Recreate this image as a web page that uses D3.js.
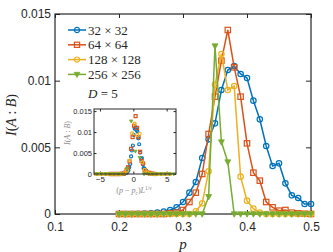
<!DOCTYPE html>
<html>
<head>
<meta charset="utf-8">
<script src="https://cdn.jsdelivr.net/npm/d3@7"></script>
<style>
  body { margin: 0; background: #fff; }
  svg { display: block; }
  .tick text { font-family: "Liberation Sans", Arial, sans-serif; fill: #262626; }
  .domain { display: none; }
</style>
</head>
<body>
<svg id="chart" width="333" height="252"></svg>
<script>
// p values (x axis), one point every 0.01
var pValues = [0.20, 0.21, 0.22, 0.23, 0.24, 0.25, 0.26, 0.27, 0.28, 0.29,
               0.30, 0.31, 0.32, 0.33, 0.34, 0.35, 0.36, 0.37, 0.38, 0.39,
               0.40, 0.41, 0.42, 0.43, 0.44, 0.45, 0.46, 0.47, 0.48, 0.49, 0.50];

// I(A:B)
var mi32 = [0, 0, 0, 0.00002, 0.00003, 0.00005, 0.0001, 0.00018, 0.0003, 0.0005,
            0.0009, 0.0016, 0.0024, 0.0042, 0.0056, 0.0068, 0.0093, 0.0108, 0.0111, 0.0105,
            0.0102, 0.0085, 0.0071, 0.0051, 0.0036, 0.0038, 0.0023, 0.0014, 0.0012, 0.00075, 0.00075];
var mi64 = [0, 0, 0, 0, 0, 0, 0, 0, 0.00005, 0.0001,
            0.0003, 0.0009, 0.0016, 0.003, 0.006, 0.0088, 0.0115, 0.0138, 0.011, 0.0088,
            0.0053, 0.0031, 0.0025, 0.0009, 0.0005, 0.00025, 0.0003, 0.0001, 0.00005, 0.00002, 0];
var mi128 = [0, 0, 0, 0, 0, 0, 0, 0, 0, 0,
             0, 0, 0.0002, 0.0008, 0.0032, 0.0097, 0.012, 0.0093, 0.0096, 0.0028,
             0.001, 0.0004, 0.0001, 0, 0, 0, 0, 0, 0, 0, 0];
var mi256 = [0, 0, 0, 0, 0, 0, 0, 0, 0, 0,
             0, 0, 0, 0, 0.0013, 0.0126, 0.0054, 0.0039, 0, 0,
             0, 0, 0, 0, 0, 0, 0, 0, 0, 0, 0];

var sizes = [32, 64, 128, 256];
var seriesNames = ["32 × 32", "64 × 64", "128 × 128", "256 × 256"];
var colors = ["#0072BD", "#D95319", "#EDB120", "#77AC30"];
var markers = ["circle", "square", "circle", "triangle"];

var xTicks = [0.1, 0.2, 0.3, 0.4, 0.5];
var yTicks = [0, 0.005, 0.01, 0.015];
var insetXTicks = [-5, 0, 5];
var insetYTicks = [0, 0.005, 0.01, 0.015];

// collapse parameters for the inset
var pc = 0.355;
var nu = 4 / 3;

var allSeries = [mi32, mi64, mi128, mi256];

var svg = d3.select("#chart");
var ink = "#262626";

var x = d3.scaleLinear().domain([0.1, 0.5]).range([55, 311]);
var y = d3.scaleLinear().domain([0, 0.015]).range([214, 14]);

var fmt = d => d === 0 ? "0" : String(+d.toFixed(3));

// axes with inward ticks
svg.append("g")
  .attr("transform", "translate(0,214)")
  .call(d3.axisBottom(x).tickValues(xTicks).tickFormat(fmt).tickSizeInner(-4).tickSizeOuter(0).tickPadding(8))
  .call(g => g.selectAll("text").attr("font-size", 12))
  .call(g => g.selectAll(".tick line").attr("stroke", ink));
svg.append("g")
  .attr("transform", "translate(0,14)")
  .call(d3.axisTop(x).tickValues(xTicks).tickFormat("").tickSizeInner(-4).tickSizeOuter(0))
  .call(g => g.selectAll(".tick line").attr("stroke", ink));
svg.append("g")
  .attr("transform", "translate(55,0)")
  .call(d3.axisLeft(y).tickValues(yTicks).tickFormat(fmt).tickSizeInner(-5).tickSizeOuter(0).tickPadding(4))
  .call(g => g.selectAll("text").attr("font-size", 12))
  .call(g => g.selectAll(".tick line").attr("stroke", ink));
svg.append("g")
  .attr("transform", "translate(311,0)")
  .call(d3.axisRight(y).tickValues(yTicks).tickFormat("").tickSizeInner(-5).tickSizeOuter(0))
  .call(g => g.selectAll(".tick line").attr("stroke", ink));

svg.append("rect")
  .attr("x", 55).attr("y", 14).attr("width", 256).attr("height", 200)
  .attr("fill", "none").attr("stroke", ink).attr("stroke-width", 1.2);

// axis labels
svg.append("text")
  .attr("x", 183).attr("y", 249)
  .attr("text-anchor", "middle")
  .attr("font-family", "Liberation Serif, serif").attr("font-style", "italic")
  .attr("font-size", 15).attr("fill", ink)
  .text("p");
svg.append("text")
  .attr("transform", "translate(16,115) rotate(-90)")
  .attr("text-anchor", "middle")
  .attr("font-family", "Liberation Serif, serif").attr("font-size", 14).attr("fill", ink)
  .html('<tspan font-style="italic">I</tspan>(<tspan font-style="italic">A</tspan> : <tspan font-style="italic">B</tspan>)');

function drawMarker(g, kind, color, r) {
  if (kind === "circle") {
    g.append("circle").attr("r", r).attr("fill", "none").attr("stroke", color).attr("stroke-width", 1.2);
  } else if (kind === "square") {
    g.append("rect").attr("x", -r).attr("y", -r).attr("width", 2 * r).attr("height", 2 * r)
      .attr("fill", "none").attr("stroke", color).attr("stroke-width", 1.2);
  } else {
    g.append("path").attr("d", `M${-r * 1.1},${-r * 0.8}L${r * 1.1},${-r * 0.8}L0,${r * 1.2}Z`)
      .attr("fill", color).attr("stroke", color).attr("stroke-width", 0.8);
  }
}

// main lines
var line = d3.line().x(d => x(d[0])).y(d => y(d[1]));
allSeries.forEach((vals, i) => {
  var pts = pValues.map((p, j) => [p, vals[j]]);
  svg.append("path").datum(pts)
    .attr("d", line).attr("fill", "none")
    .attr("stroke", colors[i]).attr("stroke-width", 1.5);
  svg.append("g").selectAll("g").data(pts).enter().append("g")
    .attr("transform", d => `translate(${x(d[0])},${y(d[1])})`)
    .each(function() { drawMarker(d3.select(this), markers[i], colors[i], 2.7); });
});

// legend
seriesNames.forEach((name, i) => {
  var ly = 30 + i * 14.8;
  var lg = svg.append("g");
  lg.append("line").attr("x1", 68).attr("x2", 86).attr("y1", ly).attr("y2", ly)
    .attr("stroke", colors[i]).attr("stroke-width", 1.5);
  var m = lg.append("g").attr("transform", `translate(77,${ly})`);
  drawMarker(m, markers[i], colors[i], 2.6);
  lg.append("text").attr("x", 88).attr("y", ly + 4.5)
    .attr("font-family", "Liberation Serif, serif").attr("font-size", 13).attr("fill", ink)
    .text(name);
});
svg.append("text").attr("x", 88).attr("y", 98)
  .attr("font-family", "Liberation Serif, serif").attr("font-size", 13).attr("fill", ink)
  .html('<tspan font-style="italic">D</tspan> = 5');

// inset
var ix = d3.scaleLinear().domain([-5.9, 6.4]).range([94, 176]);
var iy = d3.scaleLinear().domain([0, 0.0155]).range([174, 109]);
var inset = svg.append("g");
inset.append("rect").attr("x", 94).attr("y", 109).attr("width", 82).attr("height", 65).attr("fill", "#fff");
inset.append("clipPath").attr("id", "insetClip")
  .append("rect").attr("x", 94).attr("y", 106).attr("width", 82).attr("height", 71);

inset.append("g").attr("transform", "translate(0,174)")
  .call(d3.axisBottom(ix).tickValues(insetXTicks).tickSizeInner(-2.5).tickSizeOuter(0).tickPadding(2))
  .call(g => g.selectAll("text").attr("font-size", 8).attr("fill", "#444"))
  .call(g => g.selectAll(".tick line").attr("stroke", ink));
inset.append("g").attr("transform", "translate(0,109)")
  .call(d3.axisTop(ix).tickValues(insetXTicks).tickFormat("").tickSizeInner(-2.5).tickSizeOuter(0))
  .call(g => g.selectAll(".tick line").attr("stroke", ink));
inset.append("g").attr("transform", "translate(94,0)")
  .call(d3.axisLeft(iy).tickValues(insetYTicks).tickFormat(fmt).tickSizeInner(-2.5).tickSizeOuter(0).tickPadding(2))
  .call(g => g.selectAll("text").attr("font-size", 7.5).attr("fill", "#444"))
  .call(g => g.selectAll(".tick line").attr("stroke", ink));
inset.append("g").attr("transform", "translate(176,0)")
  .call(d3.axisRight(iy).tickValues(insetYTicks).tickFormat("").tickSizeInner(-2.5).tickSizeOuter(0))
  .call(g => g.selectAll(".tick line").attr("stroke", ink));

var insetMarks = inset.append("g").attr("clip-path", "url(#insetClip)");
allSeries.forEach((vals, i) => {
  var scale = Math.pow(sizes[i], 1 / nu);
  var pts = pValues.map((p, j) => [(p - pc) * scale, vals[j]]);
  insetMarks.append("g").selectAll("g").data(pts).enter().append("g")
    .attr("transform", d => `translate(${ix(d[0])},${iy(d[1])})`)
    .each(function() { drawMarker(d3.select(this), markers[i], colors[i], 1.5); });
});
inset.append("rect").attr("x", 94).attr("y", 109).attr("width", 82).attr("height", 65)
  .attr("fill", "none").attr("stroke", ink).attr("stroke-width", 1);

inset.append("text")
  .attr("transform", "translate(70,133) rotate(-90)")
  .attr("text-anchor", "middle")
  .attr("font-family", "Liberation Serif, serif").attr("font-size", 8).attr("fill", "#888")
  .html('<tspan font-style="italic">I</tspan>(<tspan font-style="italic">A</tspan> : <tspan font-style="italic">B</tspan>)');
inset.append("text")
  .attr("x", 134).attr("y", 193).attr("text-anchor", "middle")
  .attr("font-family", "Liberation Serif, serif").attr("font-size", 8).attr("fill", "#888")
  .html('(<tspan font-style="italic">p</tspan> − <tspan font-style="italic">p</tspan><tspan font-size="5.5" dy="1.5"><tspan font-style="italic">c</tspan></tspan><tspan dy="-1.5">)</tspan><tspan font-style="italic">L</tspan><tspan font-size="5.5" dy="-3">1/<tspan font-style="italic">ν</tspan></tspan>');
</script>
</body>
</html>
